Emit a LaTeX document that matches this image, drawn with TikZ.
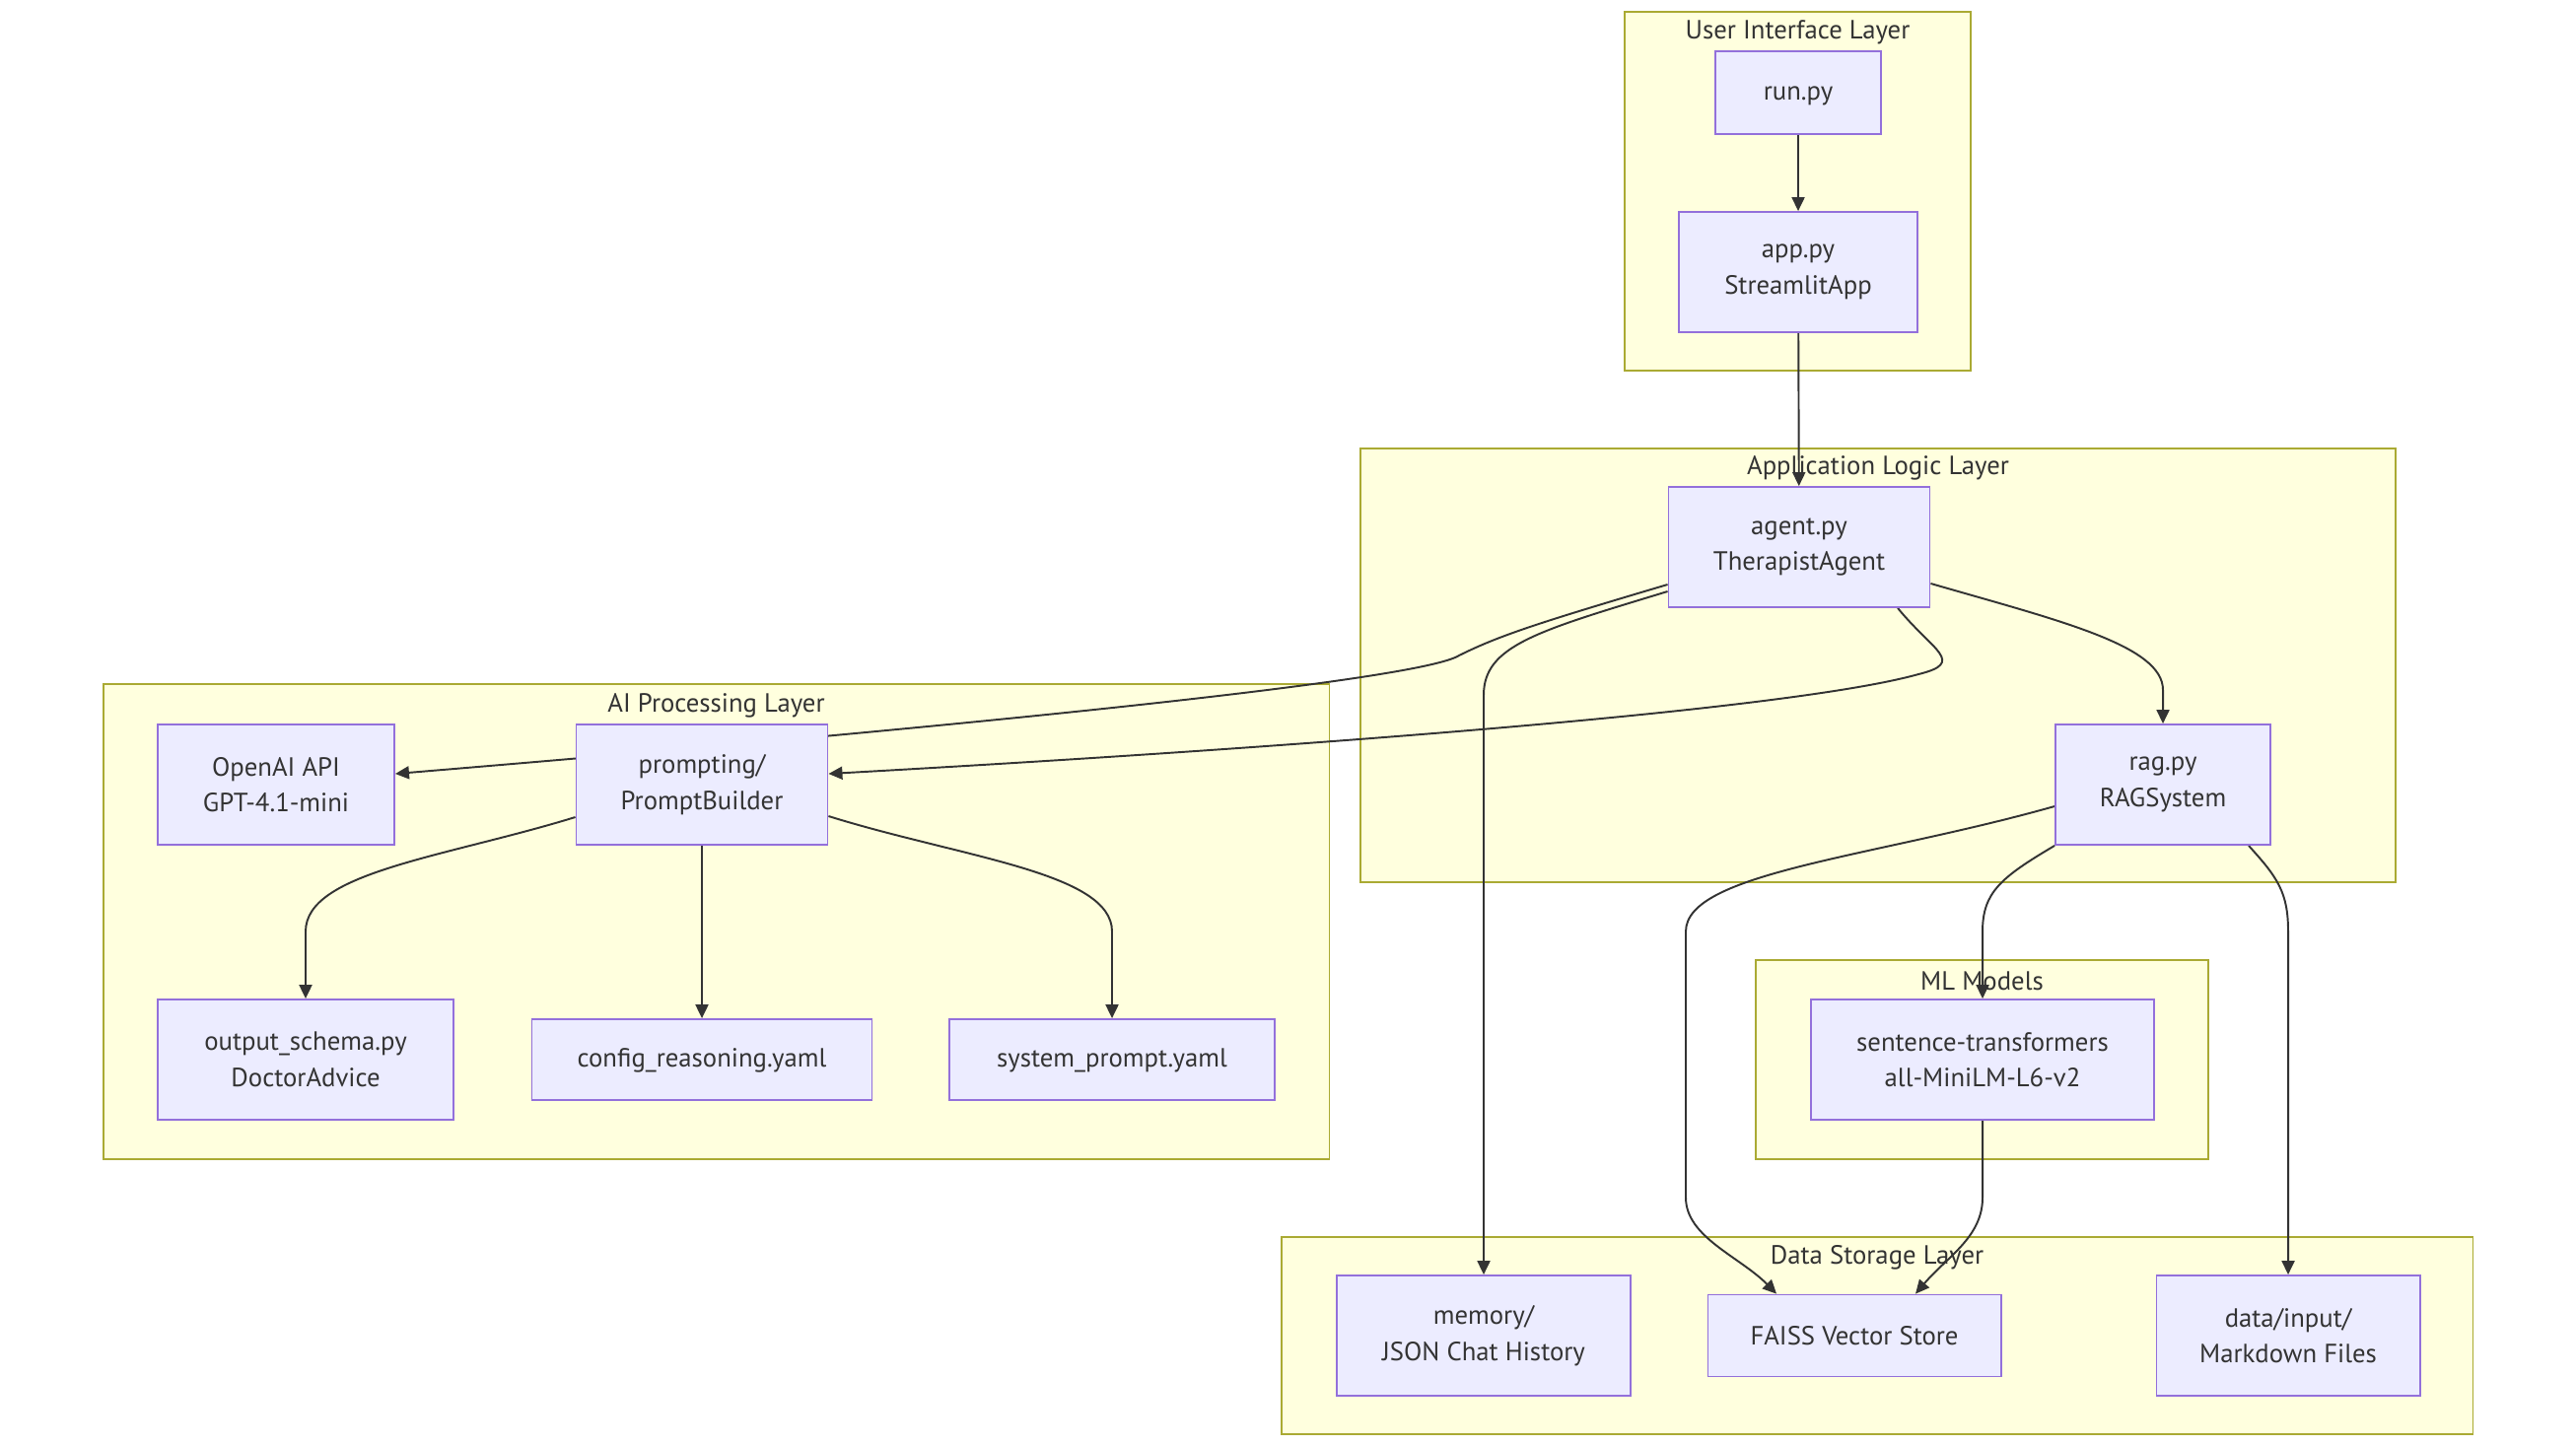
\documentclass[tikz,border=0pt]{standalone}
\usepackage{fontspec}
\setmainfont{PT Sans}
\usetikzlibrary{arrows.meta,calc}
\definecolor{nodefill}{HTML}{ECECFF}
\definecolor{nodestroke}{HTML}{9370DB}
\definecolor{clfill}{HTML}{FFFFDE}
\definecolor{clstroke}{HTML}{AAAA33}
\definecolor{ink}{HTML}{333333}
\pgfdeclarelayer{bg}
\pgfdeclarelayer{mid}
\pgfsetlayers{bg,mid,main}
\tikzset{
  box/.style={draw=nodestroke, fill=nodefill, line width=0.5pt, inner sep=0pt, align=center,
    text=ink, font=\fontsize{7.6}{10.4}\selectfont,
    execute at begin node={\rule{0pt}{5.7pt}}},
  cluster/.style={draw=clstroke, fill=clfill, line width=0.5pt, inner sep=0pt},
  cltitle/.style={text=ink, font=\fontsize{7.6}{10.4}\selectfont, inner sep=0pt},
  arr/.style={draw=ink, line width=0.55pt, -{Triangle[length=0.14cm,width=0.13cm]}},
}
\begin{document}
\begin{tikzpicture}[x=0.01cm,y=-0.01cm]
\useasboundingbox (0,0) rectangle (2613,1466);
% clusters
\begin{pgfonlayer}{bg}
\node[cluster, minimum width=3.51cm, minimum height=3.64cm] (ui) at (1823.5,194) {};
\node[cluster, minimum width=10.50cm, minimum height=4.40cm] (appl) at (1905,675) {};
\node[cluster, minimum width=12.43cm, minimum height=4.82cm] (ail) at (726.5,935) {};
\node[cluster, minimum width=4.59cm, minimum height=2.02cm] (ml) at (2010.5,1075) {};
\node[cluster, minimum width=12.08cm, minimum height=2.00cm] (dsl) at (1904,1355) {};
\node[cltitle] (uit) at (1823.5,33) {User Interface Layer};
\node[cltitle] (applt) at (1905,475) {Application Logic Layer};
\node[cltitle] (ailt) at (726.5,716) {AI Processing Layer};
\node[cltitle] (mlt) at (2010.5,995) {ML Models};
\node[cltitle] (dslt) at (1904,1276) {Data Storage Layer};
\end{pgfonlayer}
% nodes
\node[box, minimum width=1.68cm, minimum height=0.84cm] (run) at (1824,94) {run.py};
\node[box, minimum width=2.42cm, minimum height=1.22cm] (app) at (1824,276) {app.py\\StreamlitApp};
\node[box, minimum width=2.65cm, minimum height=1.22cm] (agent) at (1825,555) {agent.py\\TherapistAgent};
\node[box, minimum width=2.18cm, minimum height=1.22cm] (rag) at (2194,796) {rag.py\\RAGSystem};
\node[box, minimum width=2.40cm, minimum height=1.22cm] (openai) at (280,796) {OpenAI API\\GPT-4.1-mini};
\node[box, minimum width=2.55cm, minimum height=1.22cm] (prompt) at (712,796) {prompting/\\PromptBuilder};
\node[box, minimum width=3.00cm, minimum height=1.22cm] (output) at (310,1075) {output\_schema.py\\DoctorAdvice};
\node[box, minimum width=3.45cm, minimum height=0.82cm] (config) at (712,1075) {config\_reasoning.yaml};
\node[box, minimum width=3.30cm, minimum height=0.82cm] (system) at (1128,1075) {system\_prompt.yaml};
\node[box, minimum width=3.48cm, minimum height=1.22cm] (sent) at (2011,1075) {sentence-transformers\\all-MiniLM-L6-v2};
\node[box, minimum width=2.98cm, minimum height=1.22cm] (memory) at (1505,1355) {memory/\\JSON Chat History};
\node[box, minimum width=2.97cm, minimum height=0.83cm] (faiss) at (1881,1355) {FAISS Vector Store};
\node[box, minimum width=2.67cm, minimum height=1.22cm] (data) at (2321,1355) {data/input/\\Markdown Files};
% edges
\begin{pgfonlayer}{mid}
\draw[arr] (run) -- (app);
\draw[arr] (app) -- (agent);
\draw[arr] ($(agent.south)+(100,0)$) .. controls (1960,660) and (1995,672) .. (1946,684)
  .. controls (1800,725) and (1200,765) .. ($(prompt.east)+(0,-11)$);
\draw[arr] ($(agent.west)+(0,38)$) .. controls (1560,632) and (1520,645) .. (1480,665)
  .. controls (1440,690) and (1000,735) .. ($(openai.east)+(0,-11)$);
\draw[arr] ($(agent.west)+(0,45)$) .. controls (1560,640) and (1505,655) .. (1505,705) -- (memory.north);
\draw[arr] ($(agent.east)+(0,37)$) .. controls (2090,630) and (2194,655) .. (2194,700) -- (rag.north);
\draw[arr] ($(prompt.west)+(0,33)$) .. controls (450,870) and (310,885) .. (310,945) -- (output.north);
\draw[arr] (prompt) -- (config);
\draw[arr] ($(prompt.east)+(0,32)$) .. controls (975,870) and (1128,885) .. (1128,945) -- (system.north);
\draw[arr] (rag.south west) .. controls (2030,890) and (2011,905) .. (2011,945) -- (sent.north);
\draw[arr] ($(rag.west)+(0,22)$) .. controls (1900,870) and (1710,885) .. (1710,945) -- (1710,1215)
  .. controls (1710,1255) and (1765,1275) .. ($(faiss.north)+(-79,0)$);
\draw[arr] (sent.south) -- (2011,1215) .. controls (2011,1255) and (1975,1275) .. ($(faiss.north)+(62,0)$);
\draw[arr] ($(rag.south east)+(-23,0)$) .. controls (2310,890) and (2321,905) .. (2321,945) -- (data.north);
\end{pgfonlayer}
\end{tikzpicture}
\end{document}
